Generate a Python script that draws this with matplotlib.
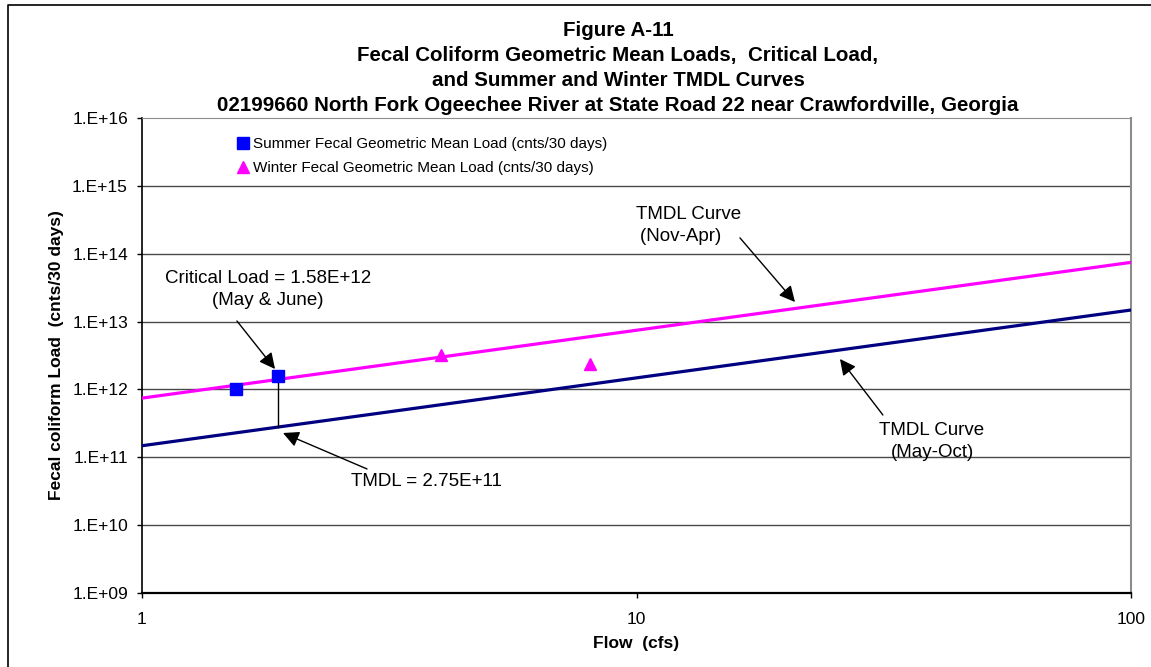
import matplotlib
matplotlib.use("Agg")
import matplotlib.pyplot as plt
from matplotlib.lines import Line2D

plt.rcParams["font.family"] = ["Liberation Sans", "DejaVu Sans"]

# summer / winter geometric mean loads
summer_flow = [1.55, 1.88]
summer_load = [1.0e12, 1.58e12]
winter_flow = [4.02, 8.05]
winter_load = [3.2e12, 2.37e12]

# TMDL curves (straight lines on log-log)
curve_flow = [1, 100]
winter_tmdl = [7.45e11, 7.45e13]
summer_tmdl = [1.48e11, 1.48e13]

critical_flow = 1.88
critical_load = 1.58e12
tmdl_value = 2.75e11

ytick_vals = [1e9, 1e10, 1e11, 1e12, 1e13, 1e14, 1e15, 1e16]
ytick_labels = ["1.E+09", "1.E+10", "1.E+11", "1.E+12", "1.E+13", "1.E+14", "1.E+15", "1.E+16"]
xtick_vals = [1, 10, 100]
xtick_labels = ["1", "10", "100"]

title_lines = [
    "Figure A-11",
    "Fecal Coliform Geometric Mean Loads,  Critical Load,",
    "and Summer and Winter TMDL Curves",
    "02199660 North Fork Ogeechee River at State Road 22 near Crawfordville, Georgia",
]

W, H = 1151, 667
fig = plt.figure(figsize=(W / 100, H / 100), dpi=100)
ax = fig.add_axes([142 / W, 1 - 593 / H, (1131 - 142) / W, (593 - 118) / H])

ax.set_xscale("log")
ax.set_yscale("log")
ax.set_xlim(1, 100)
ax.set_ylim(1e9, 1e16)

for v in ytick_vals[1:-1]:
    ax.axhline(v, color="#4a4a4a", lw=1.0, zorder=1)

ax.plot(curve_flow, winter_tmdl, color="#ff00ff", lw=2.3, zorder=3)
ax.plot(curve_flow, summer_tmdl, color="#000080", lw=2.3, zorder=3)
ax.plot([critical_flow, critical_flow], [critical_load, tmdl_value], color="black", lw=1.0, zorder=3)

ax.plot(summer_flow, summer_load, ls="none", marker="s", ms=8.4, color="#0000ff",
        label="Summer Fecal Geometric Mean Load (cnts/30 days)", zorder=4)
ax.plot(winter_flow, winter_load, ls="none", marker="^", ms=9, color="#ff00ff",
        label="Winter Fecal Geometric Mean Load (cnts/30 days)", zorder=4)

ax.set_yticks(ytick_vals)
ax.set_yticklabels(ytick_labels)
ax.set_xticks(xtick_vals)
ax.set_xticklabels(xtick_labels)
ax.minorticks_off()
ax.tick_params(axis="both", labelsize=12.5, direction="out", length=3.6, width=1, color="black")
ax.tick_params(axis="y", pad=6.5)
ax.tick_params(axis="x", pad=9.8)

ax.spines["top"].set_color("#8c8c8c")
ax.spines["right"].set_color("#8c8c8c")
ax.spines["right"].set_linewidth(1.5)
ax.spines["left"].set_linewidth(1.2)
ax.spines["bottom"].set_linewidth(1.6)

ax.set_xlabel("Flow  (cfs)", fontsize=12.5, fontweight="bold")
ax.set_ylabel("Fecal coliform Load  (cnts/30 days)", fontsize=12.5, fontweight="bold")
ax.xaxis.set_label_coords(0.5, -(636 - 593) / 475)
ax.yaxis.set_label_coords(-(142 - 64) / 989, 0.5)

for i, line in enumerate(title_lines):
    fig.text(618 / W, 1 - (30.5 + 25 * i) / H, line, ha="center", va="center",
             fontsize=14.8, fontweight="bold")

ax.legend(loc="upper left", bbox_to_anchor=(0.0965, 0.96), frameon=False, fontsize=11,
          handlelength=0.75, handletextpad=0.25, labelspacing=0.68, borderpad=0, borderaxespad=0)

arrow = dict(arrowstyle="-|>", color="black", lw=1.0, mutation_scale=24, shrinkA=0, shrinkB=0)
note_font = 13.5
ax.annotate("", xy=(1.858, 2.0e12), xytext=(1.556, 1.02e13), arrowprops=arrow)
ax.text(1.798, 2.97e13, "Critical Load = 1.58E+12\n(May & June)", ha="center", va="center",
        fontsize=note_font, linespacing=1.42)

ax.annotate("", xy=(1.928, 2.28e11), xytext=(2.851, 6.73e10), arrowprops=arrow)
ax.text(3.752, 4.33e10, "TMDL = 2.75E+11", ha="center", va="center", fontsize=note_font)

ax.annotate("", xy=(20.92, 1.94e13), xytext=(16.19, 1.71e14), arrowprops=arrow)
ax.text(12.74, 2.61e14, "TMDL Curve\n(Nov-Apr)   ", ha="center", va="center",
        fontsize=note_font, linespacing=1.42)

ax.annotate("", xy=(25.79, 2.81e12), xytext=(31.5, 4.2e11), arrowprops=arrow)
ax.text(39.6, 1.71e11, "TMDL Curve\n(May-Oct)", ha="center", va="center",
        fontsize=note_font, linespacing=1.42)

# outer chart border (left and top edges)
fig.add_artist(Line2D([8 / W, 8 / W, 1], [0, 1 - 5 / H, 1 - 5 / H], color="black", lw=1.2))

fig.savefig("out.png", dpi=100)
